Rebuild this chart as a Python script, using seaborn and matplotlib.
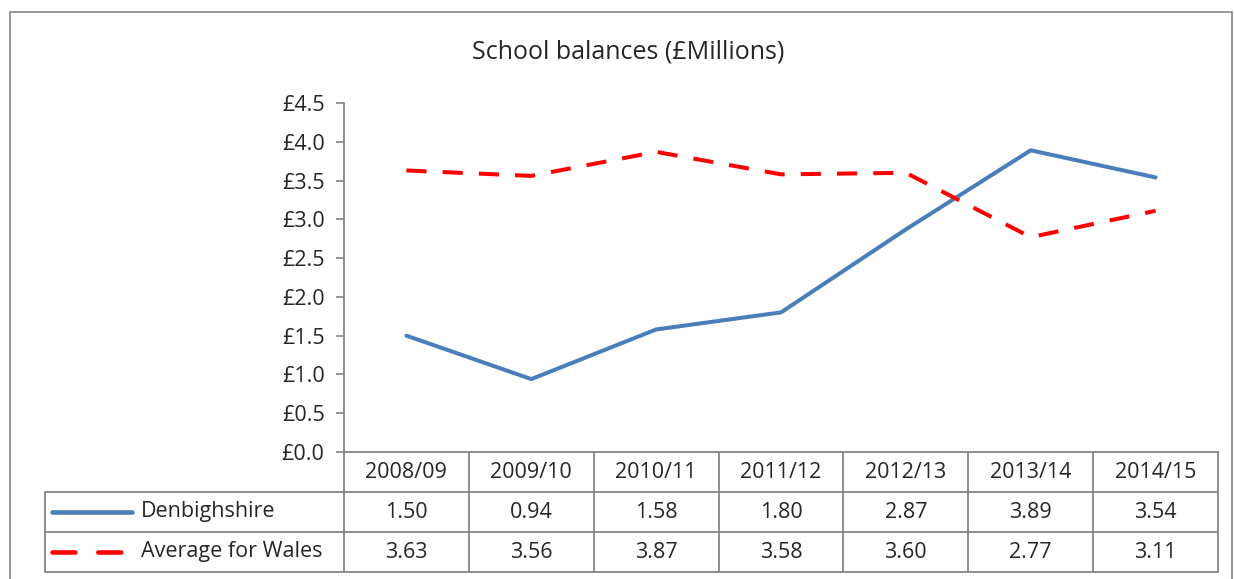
import matplotlib
matplotlib.use("Agg")
import matplotlib.pyplot as plt
import seaborn as sns
import pandas as pd
from matplotlib.patches import Rectangle
from matplotlib.lines import Line2D

years = ["2008/09", "2009/10", "2010/11", "2011/12", "2012/13", "2013/14", "2014/15"]
denbighshire = [1.50, 0.94, 1.58, 1.80, 2.87, 3.89, 3.54]
wales_avg = [3.63, 3.56, 3.87, 3.58, 3.60, 2.77, 3.11]
series_names = ["Denbighshire", "Average for Wales"]
y_ticks = [0.0, 0.5, 1.0, 1.5, 2.0, 2.5, 3.0, 3.5, 4.0, 4.5]

sns.set_style("white")
plt.rcParams['font.family'] = ['Open Sans', 'DejaVu Sans']
FS = 15.5

colors = {"Denbighshire": "#4A7EBB", "Average for Wales": "#FF0000"}

rows = []
for i, y in enumerate(years):
    rows.append({"x": i, "year": y, "value": denbighshire[i], "series": series_names[0]})
    rows.append({"x": i, "year": y, "value": wales_avg[i], "series": series_names[1]})
df = pd.DataFrame(rows)

fig = plt.figure(figsize=(12.34, 5.79), dpi=100)
ax = fig.add_axes([344/1234, 1-452/579, 874/1234, 349/579])

sns.lineplot(data=df, x="x", y="value", hue="series", style="series",
             palette=colors, dashes={"Denbighshire": "", "Average for Wales": (5, 4)},
             linewidth=2.9, legend=False, ax=ax, sort=False)

ax.set_xlim(-0.5, len(years) - 0.5)
ax.set_ylim(0, 4.5)
ax.set_yticks(y_ticks)
ax.set_yticklabels([f"£{v:.1f}" for v in y_ticks], fontsize=FS)
ax.set_xticks([])
ax.set_xlabel("")
ax.set_ylabel("")
ax.tick_params(axis="y", direction="out", length=6, color="#868686", width=1.2, pad=8, left=True)
for s in ["top", "right"]:
    ax.spines[s].set_visible(False)
for s in ["left", "bottom"]:
    ax.spines[s].set_color("#868686")
    ax.spines[s].set_linewidth(1.3)

# Title
fig.text(628/1234, 1-52/579, "School balances (£Millions)", ha="center", va="center", fontsize=18)

# Outer chart border
fig.patches.append(Rectangle((10/1234, -0.05), (1232-10)/1234, (1 - 12/579) + 0.05,
                             transform=fig.transFigure, fill=False, edgecolor="#868686", linewidth=1.2))

# Data table (axes coordinates: x in data units, y in axes fraction)
trans = ax.get_xaxis_transform()
row_h = 40/349
gc = "#868686"
lw = 1.3
left_tab = -0.5 - (344-45)/874*7
n = len(years)
ys = [0, -row_h, -2*row_h, -3*row_h]
ax.add_line(Line2D([-0.5, n-0.5], [ys[1], ys[1]], transform=trans, color=gc, lw=lw, clip_on=False))
ax.add_line(Line2D([left_tab, -0.5], [ys[1], ys[1]], transform=trans, color=gc, lw=lw, clip_on=False))
ax.add_line(Line2D([left_tab, n-0.5], [ys[2], ys[2]], transform=trans, color=gc, lw=lw, clip_on=False))
ax.add_line(Line2D([left_tab, n-0.5], [ys[3], ys[3]], transform=trans, color=gc, lw=lw, clip_on=False))
for k in range(n+1):
    xk = -0.5 + k
    ax.add_line(Line2D([xk, xk], [ys[0], ys[3]], transform=trans, color=gc, lw=lw, clip_on=False))
ax.add_line(Line2D([left_tab, left_tab], [ys[1], ys[3]], transform=trans, color=gc, lw=lw, clip_on=False))

for i, y in enumerate(years):
    ax.text(i, -0.5*row_h, y, transform=trans, ha="center", va="center", fontsize=FS, clip_on=False)
    ax.text(i, -1.5*row_h, f"{denbighshire[i]:.2f}", transform=trans, ha="center", va="center", fontsize=FS, clip_on=False)
    ax.text(i, -2.5*row_h, f"{wales_avg[i]:.2f}", transform=trans, ha="center", va="center", fontsize=FS, clip_on=False)

unit = 7/874
x0 = -0.5 - (344-52)*unit
x1 = -0.5 - (344-132)*unit
xt = -0.5 - (344-141)*unit
ax.add_line(Line2D([x0, x1], [-1.5*row_h]*2, transform=trans, color=colors["Denbighshire"],
                   lw=3.3, solid_capstyle="round", clip_on=False))
ax.add_line(Line2D([x0, x1], [-2.5*row_h]*2, transform=trans, color=colors["Average for Wales"],
                   lw=3.3, dashes=(5, 5), dash_capstyle="round", clip_on=False))
ax.text(xt, -1.5*row_h, series_names[0], transform=trans, ha="left", va="center", fontsize=FS, clip_on=False)
ax.text(xt, -2.5*row_h, series_names[1], transform=trans, ha="left", va="center", fontsize=FS, clip_on=False)

fig.savefig("out.png", dpi=100)
